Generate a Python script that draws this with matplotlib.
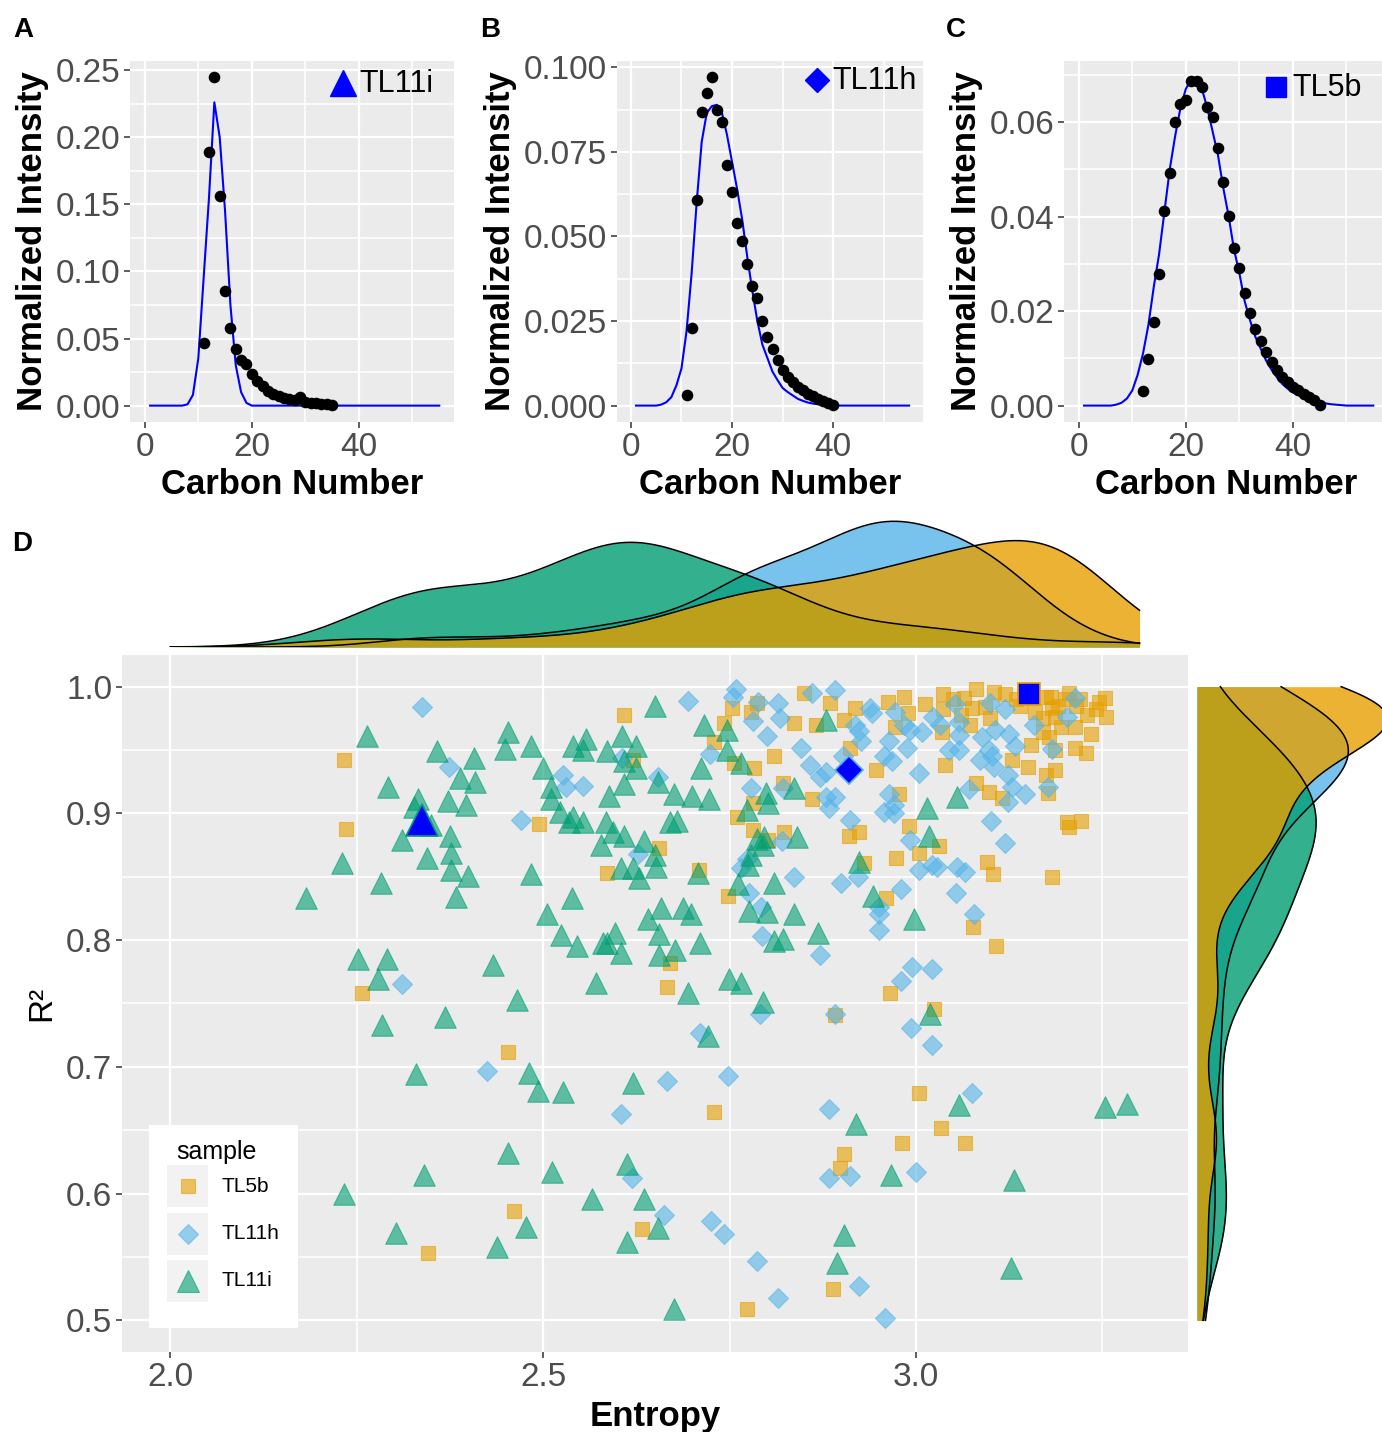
import numpy as np
import matplotlib
matplotlib.use('Agg')
import matplotlib.pyplot as plt
from matplotlib.patches import Rectangle
from matplotlib.ticker import MultipleLocator, FormatStrFormatter, FixedLocator

plt.rcParams['font.family'] = ['Liberation Sans', 'DejaVu Sans']

# ---------------- data ----------------
samples = ['TL5b', 'TL11h', 'TL11i']
sample_colors = ['#E69F00', '#56B4E9', '#009E73']

fit_carbon = list(range(1, 56))

A_carbon = list(range(11, 36))
A_intensity = [0.0464, 0.189, 0.2446, 0.156, 0.0855, 0.0576, 0.0419, 0.0339, 0.0311, 0.0236,
               0.0182, 0.0144, 0.0112, 0.0087, 0.0070, 0.0057, 0.0049, 0.0040, 0.0064, 0.0025,
               0.0020, 0.0017, 0.0015, 0.0015, 0.0005]
A_fit = [0.0, 0.0, 0.0, 0.0, 0.0, 0.0, 0.0,
         0.001, 0.008, 0.035, 0.095, 0.155, 0.226, 0.200, 0.145, 0.075, 0.030, 0.010, 0.002] + [0.0] * 36

B_carbon = list(range(11, 41))
B_intensity = [0.0030, 0.0228, 0.0609, 0.0869, 0.0925, 0.0970, 0.0873, 0.0839, 0.0710, 0.0631,
               0.0539, 0.0485, 0.0419, 0.0353, 0.0319, 0.0250, 0.0203, 0.0166, 0.0134, 0.0104,
               0.0084, 0.0069, 0.0054, 0.0045, 0.0034, 0.0027, 0.0020, 0.0013, 0.0008, 0.0003]
B_fit = [0.0] * 5 + [0.0003, 0.001, 0.0025, 0.006, 0.011, 0.022, 0.039, 0.060, 0.078, 0.0865,
                     0.0885, 0.0889, 0.0865, 0.080, 0.072, 0.064, 0.055, 0.044, 0.034, 0.025,
                     0.018, 0.014, 0.010, 0.0075, 0.0052, 0.004, 0.003, 0.002, 0.0014, 0.0009,
                     0.0006, 0.0004, 0.0002, 0.0001] + [0.0] * 16

C_carbon = list(range(12, 46))
C_intensity = [0.0030, 0.0099, 0.0176, 0.0279, 0.0411, 0.0492, 0.0600, 0.0638, 0.0647, 0.0686,
               0.0686, 0.0675, 0.0632, 0.0610, 0.0544, 0.0473, 0.0401, 0.0334, 0.0291, 0.0238,
               0.0195, 0.0163, 0.0136, 0.0114, 0.0092, 0.0075, 0.0060, 0.0050, 0.0039, 0.0032,
               0.0025, 0.0019, 0.0011, 0.0001]
C_fit = [0.0] * 6 + [0.0002, 0.0006, 0.0015, 0.0032, 0.0065, 0.011, 0.017, 0.025, 0.032, 0.041,
                     0.050, 0.057, 0.063, 0.067, 0.069, 0.069, 0.067, 0.063, 0.058, 0.053,
                     0.046, 0.040, 0.033, 0.028, 0.022, 0.018, 0.0145, 0.012, 0.0095, 0.0076,
                     0.006, 0.0046, 0.0036, 0.0028, 0.0022, 0.0017, 0.0013, 0.001, 0.0007, 0.0005,
                     0.0003, 0.0002, 0.0001] + [0.0] * 6

# Panel D: (entropy, R^2) per sample
TL11i_entropy = [2.263, 2.357, 2.407, 2.388, 2.408, 2.292, 2.332, 2.372, 2.396, 2.350, 2.327, 2.375,
                 2.311, 2.377, 2.344, 2.230, 2.376, 2.399, 2.282, 2.383, 2.182, 2.252, 2.291, 2.278,
                 2.337, 2.284, 2.368, 2.330, 2.340, 2.233, 2.303,
                 2.650, 2.453, 2.449, 2.484, 2.500, 2.511, 2.511, 2.523, 2.534, 2.540, 2.554, 2.484,
                 2.539, 2.505, 2.524, 2.546, 2.433, 2.465, 2.540, 2.558, 2.554, 2.586, 2.606, 2.625,
                 2.608, 2.624, 2.654, 2.608, 2.588, 2.675, 2.700, 2.722, 2.584, 2.593, 2.608, 2.577,
                 2.635, 2.670, 2.679, 2.650, 2.651, 2.604, 2.620, 2.629, 2.708, 2.641, 2.658, 2.687,
                 2.698, 2.655, 2.597, 2.580, 2.586, 2.604, 2.655, 2.677, 2.710, 2.571, 2.694, 2.749,
                 2.765, 2.795,
                 2.716, 2.747, 2.747, 2.765, 2.712, 2.799, 2.836, 2.802, 2.774, 2.787, 2.796, 2.840,
                 2.795, 2.779, 2.775, 2.761, 2.809, 2.776, 2.800, 2.837, 2.810, 2.822, 2.869,
                 2.880, 3.055, 3.015, 3.017, 2.923, 2.943, 2.997,
                 3.019, 3.058, 2.919, 2.966, 3.131, 3.253, 3.283, 2.903, 2.894, 3.127,
                 2.721, 2.481, 2.493, 2.526, 2.620, 2.453, 2.512, 2.612, 2.565, 2.635, 2.477, 2.654,
                 2.438, 2.612, 2.675]
TL11i_r2 = [0.961, 0.949, 0.944, 0.928, 0.925, 0.921, 0.911, 0.910, 0.907, 0.891, 0.905, 0.882,
            0.879, 0.869, 0.865, 0.861, 0.855, 0.851, 0.845, 0.834, 0.833, 0.785, 0.785, 0.769,
            0.895, 0.733, 0.739, 0.694, 0.615, 0.600, 0.569,
            0.985, 0.964, 0.951, 0.953, 0.936, 0.921, 0.911, 0.901, 0.893, 0.897, 0.893, 0.852,
            0.833, 0.821, 0.804, 0.795, 0.780, 0.753, 0.953, 0.959, 0.950, 0.949, 0.961, 0.953,
            0.941, 0.936, 0.925, 0.923, 0.914, 0.915, 0.914, 0.911, 0.893, 0.885, 0.882, 0.875,
            0.878, 0.893, 0.894, 0.867, 0.858, 0.857, 0.857, 0.849, 0.853, 0.817, 0.825, 0.825,
            0.821, 0.805, 0.806, 0.798, 0.798, 0.790, 0.788, 0.792, 0.798, 0.766, 0.758, 0.769,
            0.766, 0.751,
            0.970, 0.966, 0.950, 0.940, 0.936, 0.916, 0.920, 0.908, 0.903, 0.880, 0.881, 0.881,
            0.875, 0.867, 0.859, 0.844, 0.845, 0.823, 0.822, 0.821, 0.799, 0.801, 0.806,
            0.974, 0.913, 0.904, 0.882, 0.862, 0.835, 0.817,
            0.742, 0.670, 0.655, 0.615, 0.611, 0.668, 0.671, 0.567, 0.545, 0.541,
            0.724, 0.695, 0.681, 0.680, 0.687, 0.632, 0.617, 0.623, 0.596, 0.596, 0.574, 0.573,
            0.558, 0.562, 0.509]

TL11h_entropy = [2.338, 2.373, 2.310,
                 2.694, 2.527, 2.530, 2.553, 2.470, 2.606, 2.654, 2.627,
                 2.759, 2.755, 2.788, 2.782, 2.815, 2.818, 2.861, 2.800, 2.724, 2.846, 2.858, 2.871,
                 2.779, 2.822, 2.821, 2.774, 2.765, 2.836, 2.776, 2.792, 2.794, 2.872,
                 2.891, 2.938, 2.941, 2.918, 2.923, 2.927, 2.902, 2.880, 2.880, 2.891, 2.884, 2.972,
                 2.984, 2.992, 2.964, 2.957, 2.968, 2.988, 3.008, 3.023, 3.032, 3.052, 3.058, 3.058,
                 3.044, 3.058, 3.100, 3.120, 3.213, 3.203, 3.158, 3.182, 3.106, 3.125, 3.089, 3.133,
                 3.098, 3.086, 3.102, 3.105, 3.004, 3.123, 3.177, 3.071, 3.129, 3.146, 3.123, 2.964,
                 2.970, 2.957, 2.970, 2.912, 3.101, 2.992, 3.119, 3.004, 3.022, 3.028, 3.055, 3.066,
                 2.899, 2.922, 2.980, 3.054, 2.950, 2.951, 3.078, 2.950, 2.995, 3.022, 2.980, 2.910,
                 2.891, 2.993, 3.022, 3.075, 2.884, 2.883, 2.912, 3.000, 2.923, 2.958,
                 2.791, 2.710, 2.425, 2.666, 2.748, 2.604, 2.619, 2.662, 2.725, 2.743, 2.787, 2.815]
TL11h_r2 = [0.984, 0.937, 0.765,
            0.989, 0.930, 0.921, 0.922, 0.895, 0.944, 0.929, 0.868,
            0.998, 0.992, 0.988, 0.973, 0.987, 0.975, 0.995, 0.961, 0.947, 0.952, 0.938, 0.929,
            0.920, 0.920, 0.878, 0.864, 0.857, 0.850, 0.837, 0.826, 0.803, 0.788,
            0.997, 0.983, 0.979, 0.970, 0.965, 0.957, 0.945, 0.933, 0.913, 0.913, 0.904, 0.980,
            0.970, 0.966, 0.957, 0.945, 0.941, 0.952, 0.964, 0.976, 0.970, 0.986, 0.972, 0.962,
            0.950, 0.950, 0.987, 0.982, 0.991, 0.976, 0.970, 0.951, 0.966, 0.963, 0.960, 0.953,
            0.950, 0.942, 0.945, 0.937, 0.932, 0.930, 0.921, 0.919, 0.921, 0.915, 0.909, 0.915,
            0.907, 0.901, 0.900, 0.895, 0.894, 0.879, 0.877, 0.855, 0.859, 0.858, 0.858, 0.854,
            0.845, 0.850, 0.840, 0.837, 0.826, 0.821, 0.821, 0.808, 0.779, 0.777, 0.768, 0.934,
            0.742, 0.731, 0.717, 0.679, 0.667, 0.612, 0.614, 0.617, 0.527, 0.502,
            0.742, 0.727, 0.697, 0.689, 0.693, 0.663, 0.612, 0.583, 0.578, 0.568, 0.547, 0.518]

TL5b_entropy = [2.233, 2.236, 2.257, 2.345,
                2.608, 2.495, 2.621, 2.655, 2.586, 2.709, 2.670, 2.666,
                2.753, 2.743, 2.787, 2.779, 2.837, 2.850, 2.866, 2.729, 2.756, 2.783, 2.809, 2.822,
                2.861, 2.782, 2.760, 2.782, 2.823, 2.802, 2.748,
                2.885, 2.918, 2.904, 2.912, 2.947, 2.962, 2.984, 2.989, 2.972, 3.012, 3.036, 3.036,
                3.035, 3.065, 3.075, 3.073, 3.081, 3.105, 3.119, 3.093, 3.134, 3.181, 3.183, 3.206,
                3.220, 3.253, 3.241, 3.255, 3.187, 3.194, 3.213, 3.235, 3.170, 3.179, 3.154, 3.187,
                3.214, 3.228, 3.129, 3.150, 3.039, 3.174, 3.186, 3.177, 3.080, 3.098, 3.116, 2.977,
                2.991, 2.910, 2.923, 3.031, 3.004, 2.973, 2.930, 3.096, 3.104, 3.203, 3.222, 3.206,
                3.182, 2.960, 3.077, 3.108, 2.965, 3.152,
                2.891, 3.024, 3.004, 3.034, 2.982, 3.066, 2.903, 2.898, 2.889,
                2.453, 2.729, 2.461, 2.632, 2.774,
                3.170, 3.190, 3.160, 3.200, 3.230, 3.140, 3.100, 3.060, 3.245, 3.175, 3.215, 3.050]
TL5b_r2 = [0.942, 0.888, 0.758, 0.553,
           0.978, 0.892, 0.942, 0.873, 0.853, 0.855, 0.782, 0.763,
           0.983, 0.971, 0.987, 0.980, 0.971, 0.995, 0.970, 0.956, 0.940, 0.936, 0.945, 0.924,
           0.911, 0.908, 0.897, 0.887, 0.885, 0.879, 0.835,
           0.987, 0.983, 0.974, 0.952, 0.934, 0.988, 0.992, 0.979, 0.968, 0.986, 0.994, 0.982,
           0.964, 0.991, 0.983, 0.970, 0.998, 0.996, 0.994, 0.984, 0.990, 0.992, 0.983, 0.995,
           0.990, 0.991, 0.982, 0.976, 0.976, 0.968, 0.968, 0.963, 0.964, 0.960, 0.954, 0.950,
           0.952, 0.948, 0.942, 0.937, 0.938, 0.930, 0.934, 0.916, 0.924, 0.917, 0.912, 0.915,
           0.890, 0.882, 0.885, 0.874, 0.869, 0.865, 0.861, 0.862, 0.852, 0.893, 0.894, 0.889,
           0.850, 0.833, 0.810, 0.795, 0.758, 0.994,
           0.741, 0.746, 0.679, 0.652, 0.640, 0.640, 0.631, 0.620, 0.525,
           0.712, 0.664, 0.586, 0.572, 0.509,
           0.975, 0.985, 0.980, 0.990, 0.978, 0.985, 0.975, 0.978, 0.988, 0.992, 0.985, 0.990]

# highlighted samples (shown in panels A, B, C)
hl_entropy = [3.152, 2.910, 2.337]   # TL5b, TL11h, TL11i
hl_r2 = [0.994, 0.934, 0.895]

entropy_limits = (2.0, 3.3)
r2_limits = (0.5, 1.0)

# ---------------- helpers ----------------
W, H = 1382, 1432
fig = plt.figure(figsize=(W / 100, H / 100), dpi=100)


def box(x0, y0, x1, y1):
    return [x0 / W, 1 - y1 / H, (x1 - x0) / W, (y1 - y0) / H]


def gg(ax, labelsize=24):
    ax.set_facecolor('#EBEBEB')
    for s in ax.spines.values():
        s.set_visible(False)
    ax.set_axisbelow(True)
    ax.grid(which='major', color='white', lw=1.6)
    ax.grid(which='minor', color='white', lw=1.1)
    ax.tick_params(which='major', length=4, width=1.1, color='#333333',
                   labelcolor='#4D4D4D', labelsize=labelsize, pad=3)
    ax.tick_params(which='minor', length=0)


def nrd0_kde(data, grid):
    d = np.asarray(data)
    n = len(d)
    sd = np.std(d, ddof=1)
    q75, q25 = np.percentile(d, [75, 25])
    lo = min(sd, (q75 - q25) / 1.34)
    bw = 0.9 * lo * n ** -0.2
    z = (grid[:, None] - d[None, :]) / bw
    return np.exp(-0.5 * z ** 2).sum(1) / (n * bw * np.sqrt(2 * np.pi))


def spectrum(rect, cx, cy, fy, ymajor, yminor, fmt, marker, ms, label, mxy, txy):
    ax = fig.add_axes(rect)
    gg(ax)
    ax.plot(fit_carbon, fy, color='#0000FF', lw=1.5, zorder=3)
    ax.scatter(cx, cy, s=70, color='black', zorder=4, linewidths=0)
    ax.set_xlim(-2.75, 57.75)
    ax.xaxis.set_major_locator(FixedLocator([0, 20, 40]))
    ax.xaxis.set_minor_locator(FixedLocator([10, 30, 50]))
    ax.yaxis.set_major_locator(MultipleLocator(ymajor))
    ax.yaxis.set_minor_locator(MultipleLocator(yminor))
    ax.yaxis.set_major_formatter(FormatStrFormatter(fmt))
    ax.set_xlabel('Carbon Number', fontsize=25, fontweight='bold', labelpad=4)
    ax.set_ylabel('Normalized Intensity', fontsize=25, fontweight='bold', labelpad=5)
    ax.plot([mxy[0]], [mxy[1]], marker=marker, ms=ms, color='#0000FF', mec='#0000FF',
            transform=ax.transAxes, clip_on=False, zorder=6)
    ax.text(txy[0], txy[1], label, transform=ax.transAxes, fontsize=22,
            va='center', ha='left', zorder=6)
    return ax


# ---------------- panels A-C ----------------
axA = spectrum(box(130, 61, 454, 422), A_carbon, A_intensity, A_fit, 0.05, 0.025, '%.2f',
               '^', 19, samples[2], (0.658, 0.940), (0.708, 0.935))
axA.set_ylim(-0.0122, 0.2568)
axB = spectrum(box(617, 61, 923, 422), B_carbon, B_intensity, B_fit, 0.025, 0.0125, '%.3f',
               'D', 12, samples[1], (0.655, 0.947), (0.705, 0.945))
axB.set_ylim(-0.00485, 0.10185)
axC = spectrum(box(1064, 61, 1388, 422), C_carbon, C_intensity, C_fit, 0.02, 0.01, '%.2f',
               's', 15, samples[0], (0.655, 0.928), (0.706, 0.926))
axC.set_ylim(-0.00347, 0.0729)

for lab, x, y in [('A', 13, 37), ('B', 480, 37), ('C', 946, 37), ('D', 12, 551)]:
    fig.text(x / W, 1 - y / H, lab, fontsize=20, fontweight='bold', va='baseline', ha='left')

# ---------------- panel D ----------------
axD = fig.add_axes(box(122, 655, 1188, 1352))
gg(axD, labelsize=24)
xr = entropy_limits[1] - entropy_limits[0]
yr = r2_limits[1] - r2_limits[0]
xlim = (entropy_limits[0] - 0.05 * xr, entropy_limits[1] + 0.05 * xr)
ylim = (r2_limits[0] - 0.05 * yr, r2_limits[1] + 0.05 * yr)

groups = [(TL5b_entropy, TL5b_r2, 's', 106),
          (TL11h_entropy, TL11h_r2, 'D', 104),
          (TL11i_entropy, TL11i_r2, '^', 240)]
for (ex, ry, mk, sz), col in zip(groups, sample_colors):
    axD.scatter(ex, ry, marker=mk, s=sz, color=col, alpha=0.6, linewidths=0.8,
                edgecolors=col, zorder=3)

hl_markers = [('s', 16, '#E69F00'), ('D', 14.5, '#56B4E9'), ('^', 23, '#009E73')]
for (mk, ms, ec), ex, ry in zip(hl_markers, hl_entropy, hl_r2):
    axD.plot([ex], [ry], marker=mk, ms=ms, color='#0000FF', mec=ec, mew=1.2, zorder=5)

axD.set_xlim(*xlim)
axD.set_ylim(*ylim)
axD.xaxis.set_major_locator(FixedLocator([2.0, 2.5, 3.0]))
axD.xaxis.set_minor_locator(FixedLocator([2.25, 2.75, 3.25]))
axD.yaxis.set_major_locator(FixedLocator([0.5, 0.6, 0.7, 0.8, 0.9, 1.0]))
axD.yaxis.set_minor_locator(FixedLocator([0.55, 0.65, 0.75, 0.85, 0.95]))
axD.xaxis.set_major_formatter(FormatStrFormatter('%.1f'))
axD.yaxis.set_major_formatter(FormatStrFormatter('%.1f'))
axD.set_xlabel('Entropy', fontsize=25, fontweight='bold', labelpad=5)
axD.set_ylabel('R²', fontsize=24, labelpad=6)

# legend (ggplot style, inside panel)
fig.patches.append(Rectangle((149 / W, 1 - 1328 / H), 149 / W, 203 / H, transform=fig.transFigure,
                             facecolor='white', edgecolor='none', zorder=10))
fig.text(176 / W, 1 - 1152 / H, 'sample', fontsize=18, va='center', ha='left', zorder=11)
leg_marks = [('s', 10.5), ('D', 10), ('^', 15.5)]
for i, (lab, col, (mk, ms)) in enumerate(zip(samples, sample_colors, leg_marks)):
    yc = 1186 + i * 47.5
    fig.patches.append(Rectangle((167 / W, 1 - (yc + 21) / H), 41 / W, 42 / H,
                                 transform=fig.transFigure, facecolor='#F2F2F2',
                                 edgecolor='none', zorder=11))
    fig.lines.append(plt.Line2D([187.5 / W], [1 - yc / H], marker=mk, ms=ms, color=col,
                                alpha=0.6, mec=col, mew=0.8, transform=fig.transFigure,
                                zorder=12))
    fig.text(222 / W, 1 - yc / H, lab, fontsize=15, va='center', ha='left', zorder=12)

# ---------------- marginal densities ----------------
draw_order = [1, 2, 0]  # TL11h, TL11i, TL5b
ent_all = [TL5b_entropy, TL11h_entropy, TL11i_entropy]
r2_all = [TL5b_r2, TL11h_r2, TL11i_r2]

gx = np.linspace(entropy_limits[0], entropy_limits[1], 512)
axT = fig.add_axes(box(122, 515, 1188, 647))
axT.set_xlim(*xlim)
axT.axis('off')
dens_top = [nrd0_kde(ent_all[i], gx) for i in range(3)]
for i in draw_order:
    axT.fill_between(gx, 0, dens_top[i], color=sample_colors[i], alpha=0.8, lw=0)
    axT.plot(gx, dens_top[i], color='black', lw=1.1)
axT.set_ylim(0, max(d.max() for d in dens_top) * 1.05)

gy = np.linspace(r2_limits[0], r2_limits[1], 512)
axR = fig.add_axes(box(1197, 655, 1420, 1352))
axR.set_ylim(*ylim)
axR.axis('off')
dens_right = [nrd0_kde(r2_all[i], gy) for i in range(3)]
for i in draw_order:
    axR.fill_betweenx(gy, 0, dens_right[i], color=sample_colors[i], alpha=0.8, lw=0)
    axR.plot(dens_right[i], gy, color='black', lw=1.1)
axR.set_xlim(0, max(d.max() for d in dens_right) * 1.17)

fig.savefig('out.png', dpi=100)
